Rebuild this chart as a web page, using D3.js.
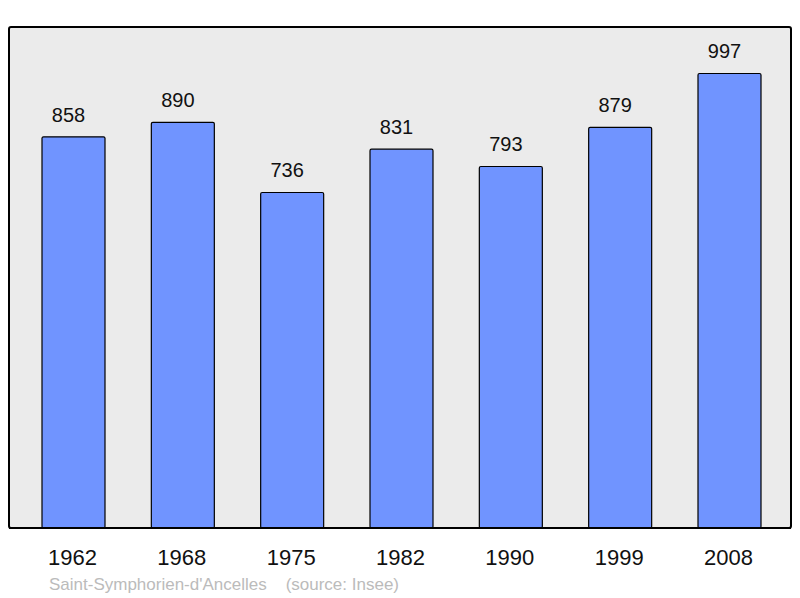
<!DOCTYPE html>
<html>
<head>
<meta charset="utf-8">
<script src="https://cdn.jsdelivr.net/npm/d3@7"></script>
<style>
  body { margin: 0; background: #fff; }
  text { font-family: "Liberation Sans", Arial, sans-serif; }
</style>
</head>
<body>
<div id="chart"></div>
<script>
var years = ["1962", "1968", "1975", "1982", "1990", "1999", "2008"];
var population = [858, 890, 736, 831, 793, 879, 997];
var caption = "Saint-Symphorien-d'Ancelles    (source: Insee)";

var w = 800, h = 598;
var box = {left: 9, top: 27, right: 791, bottom: 528};
var barWidth = 63;

var svg = d3.select("#chart").append("svg")
    .attr("width", w)
    .attr("height", h);

// plot background
svg.append("rect")
    .attr("x", box.left)
    .attr("y", box.top)
    .attr("width", box.right - box.left)
    .attr("height", box.bottom - box.top)
    .attr("rx", 2)
    .style("fill", "#ebebeb")
    .style("stroke", "#000")
    .style("stroke-width", 2);

var x = d3.scalePoint()
    .domain(years)
    .range([73.5, 729.5]);

var y = d3.scaleLinear()
    .domain([0, 1099])
    .range([box.bottom, box.top]);

var data = years.map(function (d, i) { return {year: d, value: population[i]}; });

svg.selectAll(".bar")
    .data(data)
    .enter().append("rect")
    .attr("class", "bar")
    .attr("x", function (d) { return x(d.year) - barWidth / 2; })
    .attr("y", function (d) { return y(d.value); })
    .attr("width", barWidth)
    .attr("height", function (d) { return box.bottom - y(d.value); })
    .attr("rx", 1.5)
    .style("fill", "#7094ff")
    .style("stroke", "#000")
    .style("stroke-width", 1.2);

// value labels (sit a bit left of bar centre)
svg.selectAll(".val")
    .data(data)
    .enter().append("text")
    .attr("class", "val")
    .attr("x", function (d) { return x(d.year) - 5; })
    .attr("y", function (d) { return y(d.value) - 15; })
    .attr("text-anchor", "middle")
    .style("font-size", "20px")
    .style("fill", "#111")
    .text(function (d) { return d.value; });

// redraw bottom edge over bars
svg.append("line")
    .attr("x1", box.left).attr("x2", box.right)
    .attr("y1", box.bottom).attr("y2", box.bottom)
    .style("stroke", "#000")
    .style("stroke-width", 2);

// year labels
svg.selectAll(".year")
    .data(years)
    .enter().append("text")
    .attr("class", "year")
    .attr("x", function (d) { return x(d) - 1; })
    .attr("y", 565)
    .attr("text-anchor", "middle")
    .style("font-size", "22px")
    .style("fill", "#111")
    .text(function (d) { return d; });

svg.append("text")
    .attr("x", 49)
    .attr("y", 590)
    .style("font-size", "17px")
    .style("fill", "#bbb")
    .style("white-space", "pre")
    .attr("xml:space", "preserve")
    .text(caption);
</script>
</body>
</html>
